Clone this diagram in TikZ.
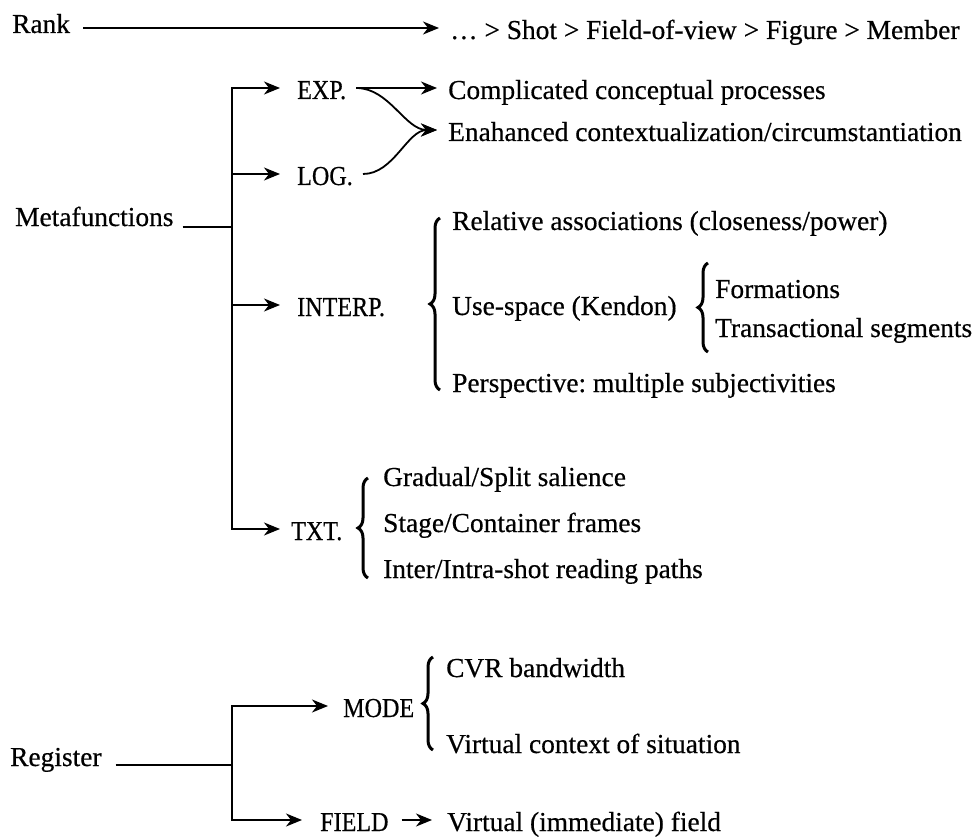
\documentclass[tikz,border=0pt]{standalone}
\usepackage{fontspec}
\setmainfont[FakeBold=0.5]{Liberation Serif}
\newfontfamily\capfont[FakeStretch=0.88,FakeBold=0.5]{Liberation Serif}
\usepackage{tikz}
\usetikzlibrary{arrows.meta,decorations.pathreplacing}
\frenchspacing

\tikzset{
	lab/.style={anchor=west, inner sep=0pt, text height=22pt, text depth=0pt, font=\fontsize{27.4}{32}\selectfont},
	caplab/.style={lab, font=\capfont\fontsize{27.4}{32}\selectfont},
	head/.style={anchor=base west, inner sep=0pt, font=\fontsize{27.4}{32}\selectfont},
	ln/.style={line width=1.8pt},
	arr/.style={ln, -{Stealth[length=16pt,width=13pt,inset=5pt]}},
	fork/.style={ln, {Stealth[length=16pt,width=13pt,inset=5pt]}-{Stealth[length=16pt,width=13pt,inset=5pt]}},
	brc/.style={decorate, decoration={brace, amplitude=10pt}, line width=3pt}
}

\begin{document}
\begin{tikzpicture}[x=1pt, y=-1pt]
	\useasboundingbox (0,0) rectangle (980,837);

	% rank
	\node[head] (rank) at (12,33) {Rank};
	\node[lab] (ranks) at (450,28) {… > Shot > Field-of-view > Figure > Member};
	\draw[arr, shorten <=13pt, shorten >=11pt] (rank.base east |- ranks.west) -- (ranks.west);

	% metafunctions
	\node[head] (meta) at (15,226) {Metafunctions};
	\coordinate (mj) at (232,227);
	\node[caplab] (exp) at (297,88) {EXP.};
	\node[caplab] (log) at (297,174) {LOG.};
	\node[caplab] (interp) at (297,305) {INTERP.};
	\node[caplab] (txt) at (291,529) {TXT.};
	\draw[ln, shorten <=9pt] (meta.base east |- mj) -- (mj);
	\draw[fork, shorten <=17pt, shorten >=11pt] (exp.west) -- (exp.west -| mj) -- (txt.west -| mj) -- (txt.west);
	\draw[arr, shorten >=17pt] (log.west -| mj) -- (log.west);
	\draw[arr, shorten >=17pt] (interp.west -| mj) -- (interp.west);

	\node[lab] (com) at (448,88) {Complicated conceptual processes};
	\node[lab] (ena) at (448,130) {Enahanced contextualization/circumstantiation};
	\draw[arr, shorten <=10pt, shorten >=11pt] (exp.east) -- (com.west);
	\draw[arr, shorten <=10pt, shorten >=11pt] (exp.east) to[out=0, in=180] (ena.west);
	\draw[arr, shorten <=10pt, shorten >=11pt] (log.east) to[out=0, in=180] (ena.west);

	\node[lab] (rel) at (452,219) {Relative associations (closeness/power)};
	\node[lab] (use) at (452,304) {Use-space (Kendon)};
	\node[lab] (persp) at (452,381) {Perspective: multiple subjectivities};
	\draw[brc] (440,390) -- (440,218);
	\node[lab] (form) at (715,287) {Formations};
	\node[lab] (trans) at (715,326) {Transactional segments};
	\draw[brc] (708,352) -- (708,263);

	\node[lab] (grad) at (383,475) {Gradual/Split salience};
	\node[lab] (stage) at (383,521) {Stage/Container frames};
	\node[lab] (inter) at (383,567) {Inter/Intra-shot reading paths};
	\draw[brc] (368,578) -- (368,478);

	% register
	\node[head] (reg) at (10,766) {Register};
	\coordinate (rj) at (232,765);
	\node[caplab] (mode) at (343,706) {MODE};
	\node[caplab] (field) at (320,820) {FIELD};
	\draw[ln, shorten <=14pt] (reg.base east |- rj) -- (rj);
	\draw[fork, shorten <=15pt, shorten >=18pt] (mode.west) -- (mode.west -| rj) -- (field.west -| rj) -- (field.west);

	\node[lab] (cvr) at (446,666) {CVR bandwidth};
	\node[lab] (vctx) at (446,742) {Virtual context of situation};
	\draw[brc] (433,750) -- (433,657);
	\node[lab] (vfield) at (447,820) {Virtual (immediate) field};
	\draw[arr, shorten <=13pt, shorten >=15pt] (field.east) -- (vfield.west);
\end{tikzpicture}
\end{document}
